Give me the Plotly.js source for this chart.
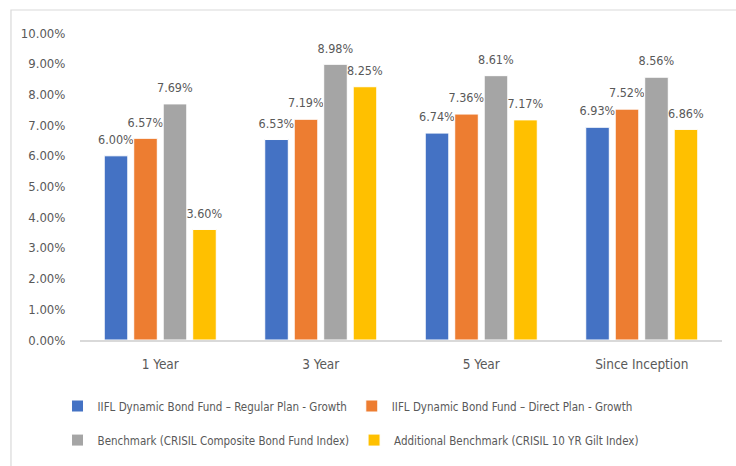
<!DOCTYPE html>
<html>
<head>
<meta charset="utf-8">
<script src="https://cdn.plot.ly/plotly-3.0.1.min.js"></script>
<style>html,body{margin:0;padding:0;background:#fff;}#chart{width:736px;height:466px;}</style>
</head>
<body>
<div id="chart"></div>
<script>
var categories = ["1 Year", "3 Year", "5 Year", "Since Inception"];
var seriesNames = [
  "IIFL Dynamic Bond Fund \u2013 Regular Plan - Growth",
  "IIFL Dynamic Bond Fund \u2013 Direct Plan - Growth",
  "Benchmark (CRISIL Composite Bond Fund Index)",
  "Additional Benchmark (CRISIL 10 YR Gilt Index)"
];
var regularPlan = [6.00, 6.53, 6.74, 6.93];
var directPlan = [6.57, 7.19, 7.36, 7.52];
var benchmark = [7.69, 8.98, 8.61, 8.56];
var additionalBenchmark = [3.60, 8.25, 7.17, 6.86];
var yTicks = [0,1,2,3,4,5,6,7,8,9,10];
var yTickLabels = yTicks.map(function(v){ return v.toFixed(2) + "%"; });

var colors = ["#4472C4", "#ED7D31", "#A5A5A5", "#FFC000"];
var allSeries = [regularPlan, directPlan, benchmark, additionalBenchmark];
var legendIds = ["legend", "legend", "legend2", "legend2"];
var FONT = "'DejaVu Sans Condensed', 'Liberation Sans Narrow', Arial, sans-serif";
var GREY = "#595959";

var traces = allSeries.map(function(vals, i){
  return {
    type: "bar",
    name: seriesNames[i],
    legend: legendIds[i],
    x: categories,
    y: vals,
    text: vals.map(function(v){ return "<span style='font-size:12.5px'>" + v.toFixed(2) + "%</span><br> "; }),
    textposition: "outside",
    constraintext: "none",
    cliponaxis: false,
    textfont: {family: FONT, size: 6, color: GREY},
    marker: {color: colors[i], line: {color: "#ffffff", width: 1}},
    hoverinfo: "none"
  };
});

var legendCommon = function(yPos){
  return {
    orientation: "h", x: -0.035, xanchor: "left", y: yPos, yanchor: "middle",
    font: {family: FONT, size: 11.5, color: GREY},
    traceorder: "normal", itemwidth: 30, bgcolor: "rgba(0,0,0,0)"
  };
};

var layout = {
  width: 736, height: 466,
  margin: {l: 80, r: 14, t: 33, b: 126},
  paper_bgcolor: "#ffffff", plot_bgcolor: "#ffffff",
  font: {family: FONT, size: 13, color: GREY},
  barmode: "group",
  bargap: 0.265,
  bargroupgap: 0.2,
  showlegend: true,
  xaxis: {
    showgrid: false, zeroline: false,
    showline: true, linecolor: "#D9D9D9", linewidth: 1.5,
    ticks: "outside", ticklen: 11, tickcolor: "rgba(0,0,0,0)",
    tickfont: {family: FONT, size: 13.5, color: GREY}
  },
  yaxis: {
    range: [0, 10], showgrid: false, zeroline: false, showline: false,
    tickmode: "array", tickvals: yTicks, ticktext: yTickLabels,
    ticks: "outside", ticklen: 11, tickcolor: "rgba(0,0,0,0)",
    tickfont: {family: FONT, size: 13, color: GREY}
  },
  legend: legendCommon(-0.215),
  legend2: legendCommon(-0.326),
  shapes: [{
    type: "rect", xref: "paper", yref: "paper",
    x0: -0.1075, x1: 1.05, y0: -0.45, y1: 1.0749,
    line: {color: "#D9D9D9", width: 1.2}, fillcolor: "rgba(0,0,0,0)", layer: "below"
  }]
};

Plotly.newPlot("chart", traces, layout, {displayModeBar: false, staticPlot: true});
</script>
</body>
</html>
